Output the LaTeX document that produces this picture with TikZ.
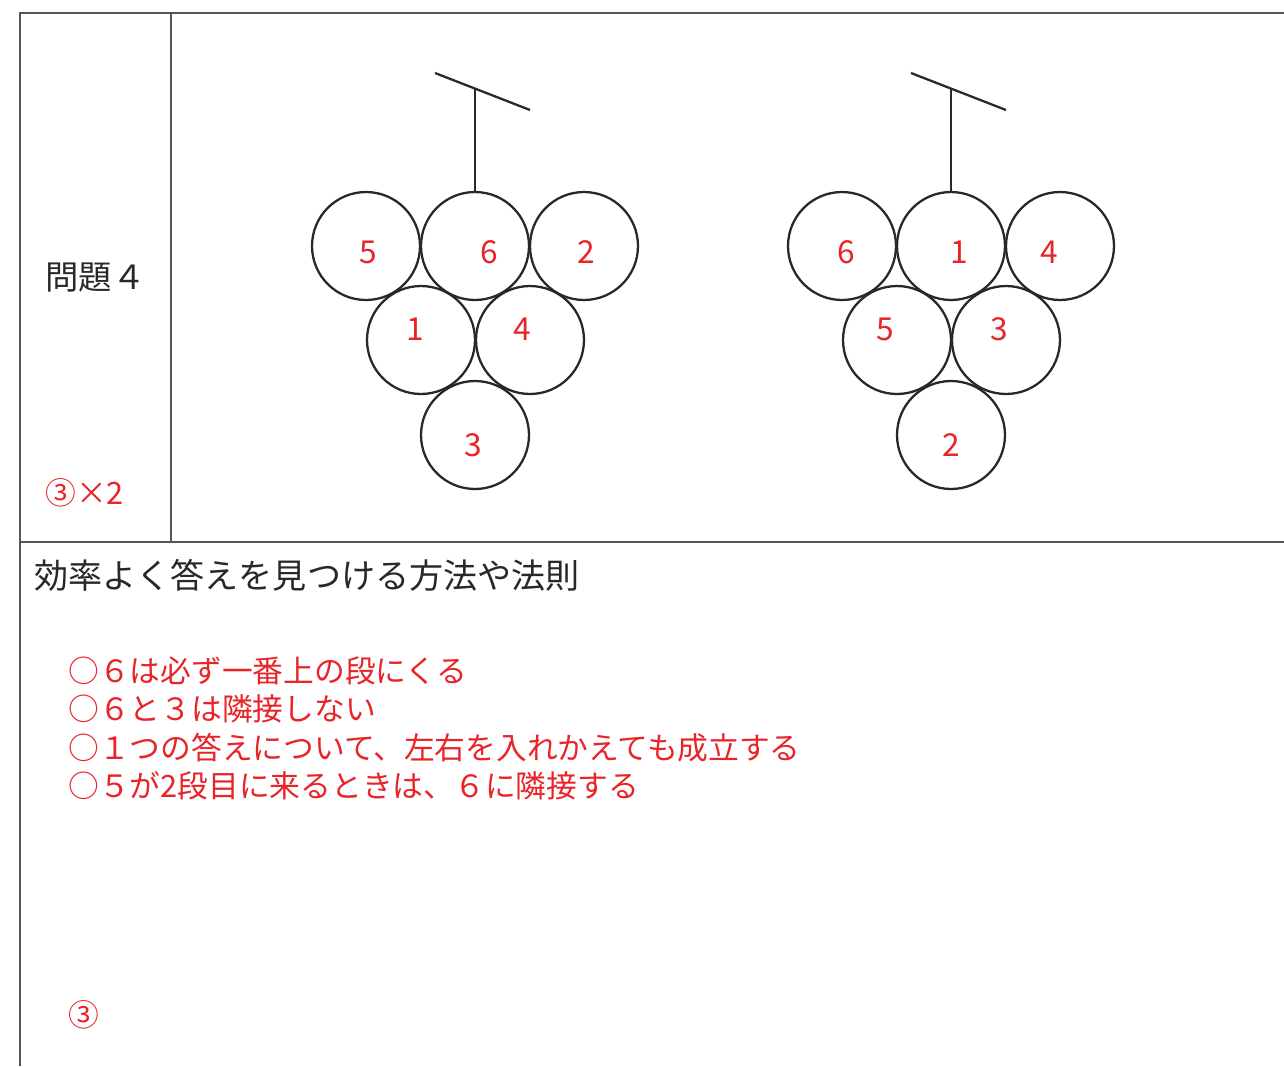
\documentclass[tikz,border=0pt]{standalone}
\usepackage{fontspec}
\setmainfont{Noto Sans CJK JP}
\usepackage{xcolor}
\definecolor{answer}{RGB}{232,36,40}
\definecolor{ink}{RGB}{40,40,40}
\definecolor{rule}{RGB}{85,85,85}

\begin{document}
\begin{tikzpicture}[x=0.02cm,y=-0.02cm]
        \tikzset{grape/.style={draw=ink,circle,line width=1.3pt,minimum size=2.16cm,inner sep=0pt},
            num/.style={text=answer,font=\fontsize{18}{18}\selectfont,inner sep=0pt},
            note/.style={text=answer,font=\fontsize{17.5}{17.5}\selectfont,anchor=west,inner sep=0pt},
            frame/.style={draw=rule,line width=1.1pt},
            stem/.style={draw=ink,line width=1.3pt}}
        \useasboundingbox (0,0) rectangle (1284,1066);
        % table
        \coordinate (tl) at (20,13);
        \coordinate (tr) at (1284,13);
        \coordinate (bl) at (20,1066);
        \coordinate (ct) at (171,13);
        \coordinate (cb) at (171,542);
        \coordinate (ml) at (20,542);
        \coordinate (mr) at (1284,542);
        \draw[frame] (tr) -- (tl) -- (bl);
        \draw[frame] (ct) -- (cb);
        \draw[frame] (ml) -- (mr);
        \node[anchor=west,inner sep=0pt,text=ink,font=\fontsize{19}{19}\selectfont] (title) at (45,278) {問題４};
        \node[note] (score) at (45,493) {③×2};
        % first grape
        \node[grape] (a5) at (366,246) {};
        \node[grape] (a6) at (475,246) {};
        \node[grape] (a2) at (584,246) {};
        \node[grape] (a1) at (421,340) {};
        \node[grape] (a4) at (530,340) {};
        \node[grape] (a3) at (475,435) {};
        \node[num] at (368,252) {5};
        \node[num] at (489,252) {6};
        \node[num] at (586,252) {2};
        \node[num] at (415,329) {1};
        \node[num] at (522,329) {4};
        \node[num] at (473,445) {3};
        \coordinate (aleft) at (435,73);
        \coordinate (aright) at (530,110);
        \coordinate (atop) at (475,89);
        \draw[stem] (aleft) -- (aright);
        \draw[stem] (atop) -- (a6.north);
        % second grape
        \node[grape] (b6) at (842,246) {};
        \node[grape] (b1) at (951,246) {};
        \node[grape] (b4) at (1060,246) {};
        \node[grape] (b5) at (897,340) {};
        \node[grape] (b3) at (1006,340) {};
        \node[grape] (b2) at (951,435) {};
        \node[num] at (846,252) {6};
        \node[num] at (959,252) {1};
        \node[num] at (1049,252) {4};
        \node[num] at (885,329) {5};
        \node[num] at (999,329) {3};
        \node[num] at (951,445) {2};
        \coordinate (bleft) at (911,73);
        \coordinate (bright) at (1006,110);
        \coordinate (btop) at (951,89);
        \draw[stem] (bleft) -- (bright);
        \draw[stem] (btop) -- (b1.north);
        % rules
        \node[anchor=west,inner sep=0pt,text=ink,font=\fontsize{19.4}{19.4}\selectfont] (head) at (34,575) {効率よく答えを見つける方法や法則};
        \node[note] (r1) at (68,671) {○６は必ず一番上の段にくる};
        \node[note] (r2) at (68,709) {○６と３は隣接しない};
        \node[note] (r3) at (68,748) {○１つの答えについて、左右を入れかえても成立する};
        \node[note] (r4) at (68,786) {○５が2段目に来るときは、６に隣接する};
        \node[note] (pts) at (68,1015) {③};
    \end{tikzpicture}
\end{document}
